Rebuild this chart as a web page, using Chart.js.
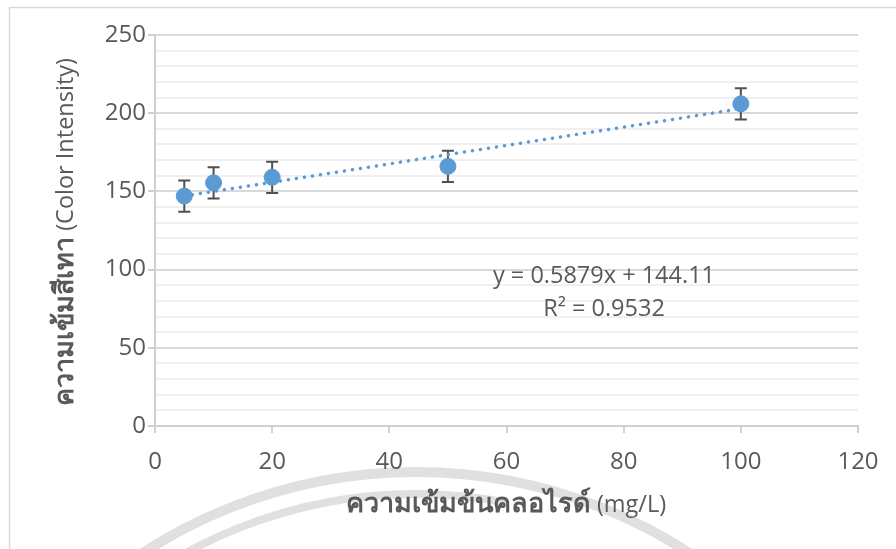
<!DOCTYPE html>
<html>
<head>
<meta charset="utf-8">
<script src="https://cdn.jsdelivr.net/npm/chart.js@4.4.0/dist/chart.umd.min.js"></script>
<style>
  html, body { margin: 0; padding: 0; background: #ffffff; }
  #wrap { width: 896px; height: 549px; position: relative; }
</style>
</head>
<body>
<div id="wrap"><canvas id="c" width="896" height="549"></canvas></div>
<script>
// ---- data ----
const concentrations = [5, 10, 20, 50, 100];          // mg/L
const intensities    = [147, 155.5, 159, 166, 206];   // color intensity
const errors         = [10, 10, 10, 10, 10];          // +/- error bar
const trendX         = [5, 100];
const trendY         = [147.0, 202.9];
const xTicks         = [0, 20, 40, 60, 80, 100, 120];
const yTicks         = [0, 50, 100, 150, 200, 250];
const equationText   = 'y = 0.5879x + 144.11';
const r2Text         = 'R\u00B2 = 0.9532';
const xTitleThai     = 'ความเข้มข้นคลอไรด์';
const xTitleUnit     = ' (mg/L)';
const yTitleThai     = 'ความเข้มสีเทา';
const yTitleUnit     = ' (Color Intensity)';

const FONT = '"Open Sans", "Noto Sans", sans-serif';
const TEXT = '#595959';

const frameAndWatermark = {
  id: 'frameAndWatermark',
  beforeDraw(chart) {
    const ctx = chart.ctx;
    ctx.save();
    ctx.fillStyle = '#ffffff';
    ctx.fillRect(0, 0, chart.width, chart.height);
    // outer frame
    ctx.strokeStyle = '#d9d9d9';
    ctx.lineWidth = 1.5;
    ctx.strokeRect(9.5, 7.5, 1000, 700);
    // faint watermark arcs
    ctx.strokeStyle = '#e0e0e0';
    ctx.lineWidth = 10;
    const cx = 416, cy = 973;
    ctx.beginPath();
    ctx.arc(cx, cy, 501, Math.PI * 1.0, Math.PI * 2.0);
    ctx.stroke();
    ctx.lineWidth = 8;
    ctx.beginPath();
    ctx.arc(cx, cy, 479, Math.PI * 1.0, Math.PI * 1.56);
    ctx.stroke();
    ctx.restore();
  }
};

const errorBars = {
  id: 'errorBars',
  beforeDatasetsDraw(chart) {
    const ctx = chart.ctx;
    const xs = chart.scales.x, ys = chart.scales.y;
    ctx.save();
    ctx.strokeStyle = '#505050';
    ctx.lineWidth = 2;
    concentrations.forEach((c, i) => {
      const px = xs.getPixelForValue(c);
      const top = ys.getPixelForValue(intensities[i] + errors[i]);
      const bot = ys.getPixelForValue(intensities[i] - errors[i]);
      ctx.beginPath();
      ctx.moveTo(px, top); ctx.lineTo(px, bot);
      ctx.moveTo(px - 6, top); ctx.lineTo(px + 6, top);
      ctx.moveTo(px - 6, bot); ctx.lineTo(px + 6, bot);
      ctx.stroke();
    });
    ctx.restore();
  }
};

function drawMixed(ctx, parts, cx, cy) {
  let total = 0;
  parts.forEach(p => { ctx.font = p.font; p.w = ctx.measureText(p.text).width; total += p.w; });
  let x = cx - total / 2;
  parts.forEach(p => { ctx.font = p.font; ctx.fillText(p.text, x, cy); x += p.w; });
}

const textLayer = {
  id: 'textLayer',
  afterDraw(chart) {
    const ctx = chart.ctx;
    ctx.save();
    ctx.fillStyle = TEXT;
    ctx.textBaseline = 'alphabetic';
    ctx.textAlign = 'left';
    // equation
    ctx.font = '23.5px ' + FONT;
    let w = ctx.measureText(equationText).width;
    ctx.fillText(equationText, 604 - w / 2, 283);
    w = ctx.measureText(r2Text).width;
    ctx.fillText(r2Text, 604 - w / 2, 316);
    // x title
    drawMixed(ctx, [
      { text: xTitleThai, font: '600 27px ' + FONT },
      { text: xTitleUnit, font: '23.5px ' + FONT }
    ], 506, 512);
    // y title
    ctx.translate(73, 232);
    ctx.rotate(-Math.PI / 2);
    drawMixed(ctx, [
      { text: yTitleThai, font: '600 27px ' + FONT },
      { text: yTitleUnit, font: '23.5px ' + FONT }
    ], 0, 0);
    ctx.restore();
  }
};

new Chart(document.getElementById('c'), {
  type: 'scatter',
  data: {
    datasets: [
      {
        label: 'data',
        data: concentrations.map((c, i) => ({ x: c, y: intensities[i] })),
        backgroundColor: '#5b9bd5',
        borderColor: '#5b9bd5',
        pointRadius: 8,
        pointHoverRadius: 8,
        showLine: false
      },
      {
        label: 'trend',
        data: trendX.map((x, i) => ({ x: x, y: trendY[i] })),
        showLine: true,
        borderColor: '#5b9bd5',
        borderWidth: 3.5,
        borderDash: [0.1, 8],
        borderCapStyle: 'round',
        pointRadius: 0,
        fill: false
      }
    ]
  },
  options: {
    responsive: false,
    animation: false,
    devicePixelRatio: 1,
    layout: { padding: { top: 35, right: 38, left: 0, bottom: 0 } },
    plugins: { legend: { display: false }, tooltip: { enabled: false } },
    scales: {
      x: {
        type: 'linear',
        min: 0, max: 120,
        afterFit(s) { s.height = 123; },
        afterBuildTicks(s) { s.ticks = xTicks.map(v => ({ value: v })); },
        ticks: { color: TEXT, font: { family: FONT, size: 24 }, padding: 15, maxRotation: 0 },
        grid: { drawOnChartArea: false, color: '#d0d0d0', lineWidth: 2, tickLength: 7 },
        border: { color: '#d0d0d0', width: 2 }
      },
      y: {
        type: 'linear',
        min: 0, max: 250,
        afterFit(s) { s.width = 155; },
        afterBuildTicks(s) {
          const t = [];
          for (let v = 0; v <= 250; v += 10) t.push({ value: v });
          s.ticks = t;
        },
        ticks: {
          color: TEXT, font: { family: FONT, size: 24 }, padding: 2, autoSkip: false,
          callback: v => yTicks.includes(v) ? String(v) : ''
        },
        grid: {
          color: c => (c.tick && c.tick.value % 50 === 0) ? '#d9d9d9' : '#f0f0f0',
          tickColor: c => (c.tick && c.tick.value % 50 === 0) ? '#d0d0d0' : 'rgba(0,0,0,0)',
          lineWidth: 2,
          tickLength: 7
        },
        border: { color: '#d0d0d0', width: 2 }
      }
    }
  },
  plugins: [frameAndWatermark, errorBars, textLayer]
});
</script>
</body>
</html>
